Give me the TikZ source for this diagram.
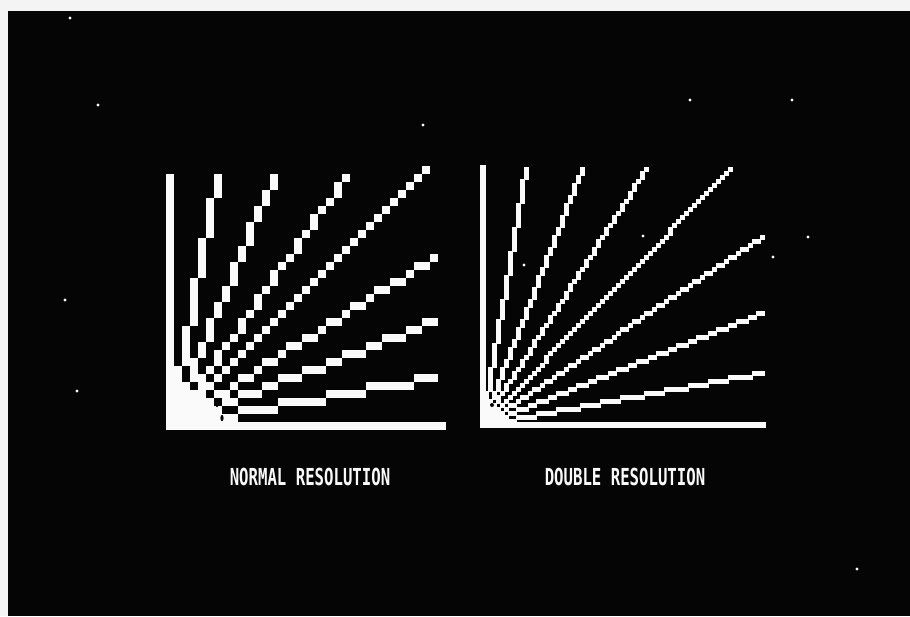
\documentclass[tikz,border=0pt]{standalone}
\usepackage{fontspec}
\usepackage{tikz}
\newfontfamily\screenfont{DejaVu Sans Mono}
\definecolor{phosphor}{HTML}{FAFAFA}
\definecolor{tube}{HTML}{050505}
\definecolor{paper}{HTML}{F4F4F4}

\begin{document}
\begin{tikzpicture}[x=0.5pt,y=-0.5pt,
    screentext/.style={font=\screenfont\bfseries\fontsize{11.7}{12}\selectfont,
                       text=phosphor,inner sep=0pt,xscale=0.67}]
  \useasboundingbox (0,0) rectangle (910,616);
  % photo margin and screen
  \fill[paper] (0,0) rectangle (910,616);
  \fill[tube] (8,11) rectangle (910,616);
  % specks on the glass
  \foreach \x/\y in {70/18,98/105,423/125,690/100,792/100,65/300,77/391,
                     808/237,773/257,643/236,524/265,857/569}{
    \fill[phosphor] (\x,\y) circle (1.6);}
  % normal resolution: 8px cells, corner at (166,430)
  \fill[phosphor] (166,430) rectangle (446,422);
  \fill[phosphor] (166,430) rectangle (174,174);
  \foreach \ex/\ey in {6/31,13/31,22/31,32/32,33/21,33/13,33/6}{
    \pgfmathtruncatemacro\n{max(\ex,\ey)}
    \foreach \t in {0,...,\n}{
      \pgfmathtruncatemacro\i{round(\t*\ex/\n)}
      \pgfmathtruncatemacro\j{round(\t*\ey/\n)}
      \fill[phosphor] (165.6+\i*8,430.4-\j*8) rectangle ++(8.8,-8.8);}}
  \fill[tube] (217,404) ellipse (1.6 and 3.2);
  \fill[tube] (222,418) ellipse (1.6 and 3.2);
  % double resolution: 4px steps, cells drawn a little wider for the glow
  \fill[phosphor] (480,428) rectangle (766,422);
  \fill[phosphor] (480,428) rectangle (486,165);
  \foreach \ex/\ey in {11/64,25/64,41/64,62/64,70/47,70/28,70/13}{
    \pgfmathtruncatemacro\n{max(\ex,\ey)}
    \foreach \t in {0,...,\n}{
      \pgfmathtruncatemacro\i{round(\t*\ex/\n)}
      \pgfmathtruncatemacro\j{round(\t*\ey/\n)}
      \fill[phosphor] (480+\i*4,428-\j*4) rectangle ++(5,-5);}}
  \fill[tube] (492,405) circle (2);
  % captions
  \node[screentext] (normal) at (310,477) {NORMAL RESOLUTION};
  \node[screentext] (double) at (625,477) {DOUBLE RESOLUTION};
\end{tikzpicture}
\end{document}
